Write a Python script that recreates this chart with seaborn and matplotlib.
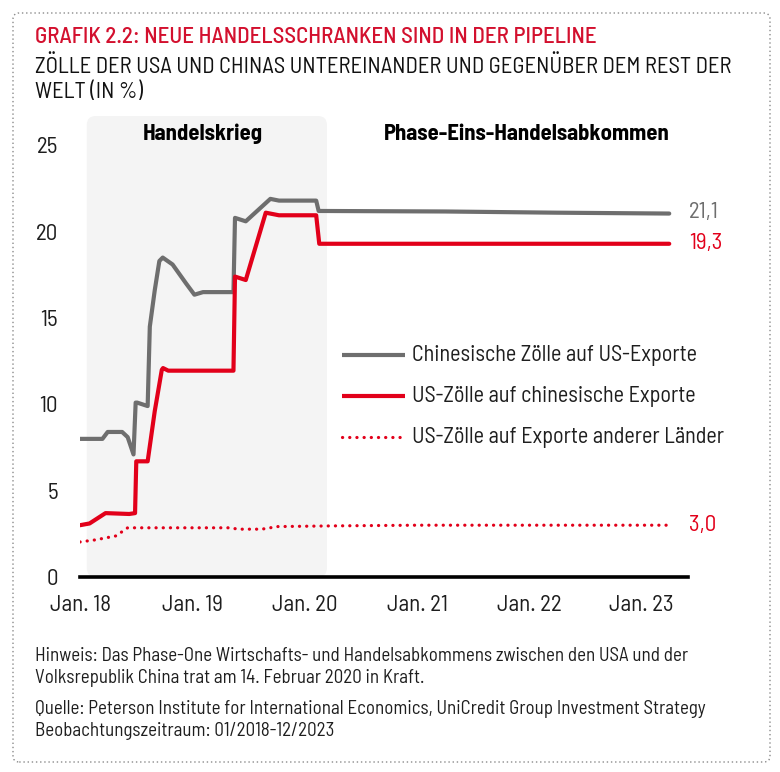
import matplotlib
matplotlib.use("Agg")
import matplotlib.pyplot as plt
import matplotlib.dates as mdates
from matplotlib.patches import FancyBboxPatch
from matplotlib.lines import Line2D
import seaborn as sns
import pandas as pd

# ---- data ----
cn_dates = ["2018-01-01", "2018-03-15", "2018-04-01", "2018-05-18", "2018-06-05", "2018-06-24",
            "2018-07-01", "2018-07-06", "2018-08-09", "2018-08-16", "2018-09-01", "2018-09-16",
            "2018-09-27", "2018-10-29", "2018-12-12", "2019-01-08", "2019-02-05", "2019-05-15",
            "2019-05-20", "2019-06-24", "2019-09-12", "2019-10-10", "2020-02-08", "2020-02-16",
            "2021-04-01", "2022-04-01", "2023-04-01"]
cn_vals = [8.0, 8.0, 8.4, 8.4, 8.1, 7.1,
           10.1, 10.1, 9.9, 14.5, 16.6, 18.3,
           18.5, 18.1, 17.0, 16.35, 16.5, 16.5,
           20.8, 20.6, 21.9, 21.8, 21.8, 21.2,
           21.17, 21.1, 21.05]

us_dates = ["2018-01-01", "2018-02-01", "2018-03-25", "2018-06-10", "2018-06-29", "2018-07-03",
            "2018-08-09", "2018-09-01", "2018-09-24", "2018-09-28", "2018-10-15", "2019-05-15",
            "2019-05-20", "2019-06-24", "2019-08-28", "2019-10-10", "2020-02-08", "2020-02-18",
            "2023-04-01"]
us_vals = [3.0, 3.1, 3.7, 3.65, 3.7, 6.7,
           6.7, 9.6, 12.0, 12.1, 11.95, 11.95,
           17.4, 17.2, 21.1, 20.95, 20.95, 19.3,
           19.3]

row_dates = ["2018-01-01", "2018-02-20", "2018-04-28", "2018-06-05", "2019-05-01", "2019-06-01",
             "2019-08-15", "2019-10-05", "2020-04-01", "2021-01-01", "2023-04-01"]
row_vals = [2.03, 2.15, 2.38, 2.85, 2.85, 2.77,
            2.77, 2.92, 2.96, 3.0, 3.0]

series_names = ["Chinesische Zölle auf US-Exporte",
                "US-Zölle auf chinesische Exporte",
                "US-Zölle auf Exporte anderer Länder"]
end_labels = ["21,1", "19,3", "3,0"]
end_values = [21.1, 19.3, 3.0]
phase_labels = ["Handelskrieg", "Phase-Eins-Handelsabkommen"]
war_start, war_end = "2018-01-23", "2020-03-14"
title = "GRAFIK 2.2: NEUE HANDELSSCHRANKEN SIND IN DER PIPELINE"
subtitle = "ZÖLLE DER USA UND CHINAS UNTEREINANDER UND GEGENÜBER DEM REST DER\nWELT (IN %)"
note1 = "Hinweis: Das Phase-One Wirtschafts- und Handelsabkommens zwischen den USA und der\nVolksrepublik China trat am 14. Februar 2020 in Kraft."
note2 = "Quelle: Peterson Institute for International Economics, UniCredit Group Investment Strategy\nBeobachtungszeitraum: 01/2018-12/2023"

GRAY = "#6e6e6e"
RED = "#e2001a"
TXT = "#1e1e1e"

sns.set_theme(style="white")
FONT = ['Barlow Semi Condensed', 'Roboto Condensed', 'DejaVu Sans']
plt.rcParams['font.family'] = FONT

W, H = 780, 772
fig = plt.figure(figsize=(W / 100, H / 100), dpi=100)
renderer = fig.canvas.get_renderer()


def fit(t, target_px):
    """scale a text's font size so that its rendered width matches target_px"""
    for _ in range(3):
        w = t.get_window_extent(renderer).width
        t.set_fontsize(t.get_fontsize() * target_px / w)
    return t.get_fontsize()


def fx(px):
    return px / W


def fy(py):
    return 1 - py / H


ax = fig.add_axes([fx(80), fy(577), (688 - 80) / W, (577 - 116) / H])

df = pd.concat([
    pd.DataFrame({"date": pd.to_datetime(cn_dates), "val": cn_vals, "series": series_names[0]}),
    pd.DataFrame({"date": pd.to_datetime(us_dates), "val": us_vals, "series": series_names[1]}),
    pd.DataFrame({"date": pd.to_datetime(row_dates), "val": row_vals, "series": series_names[2]}),
])

ax.set_xlim(pd.Timestamp("2018-01-01"), pd.Timestamp("2023-06-01"))
ax.set_ylim(0, 26.7)

# shaded "trade war" period with rounded corners
x0 = mdates.date2num(pd.Timestamp(war_start))
x1 = mdates.date2num(pd.Timestamp(war_end))
px_per_day = (688 - 80) / (mdates.date2num(pd.Timestamp("2023-06-01")) - mdates.date2num(pd.Timestamp("2018-01-01")))
px_per_unit = (577 - 116) / 26.7
rs = 9 / px_per_day
shade = FancyBboxPatch((x0, 0), x1 - x0, 26.7,
                       boxstyle=f"round,pad=0,rounding_size={rs}",
                       mutation_aspect=px_per_day / px_per_unit,
                       facecolor="#f4f4f4", edgecolor="none", zorder=0)
ax.add_patch(shade)

sns.lineplot(data=df[df.series == series_names[0]], x="date", y="val", ax=ax, color=GRAY, lw=3.0,
             legend=False, solid_capstyle="round", solid_joinstyle="round", zorder=3)
sns.lineplot(data=df[df.series == series_names[1]], x="date", y="val", ax=ax, color=RED, lw=3.0,
             legend=False, solid_capstyle="round", solid_joinstyle="round", zorder=3)
sns.lineplot(data=df[df.series == series_names[2]], x="date", y="val", ax=ax, color=RED, lw=2.3,
             legend=False, linestyle=(0, (0.05, 2.2)), dash_capstyle="round", zorder=3)

ax.set_yticks([0, 5, 10, 15, 20, 25])
ax.xaxis.set_major_locator(mdates.YearLocator())
ax.xaxis.set_major_formatter(mdates.DateFormatter("Jan. %y"))
ax.set_xlabel("")
ax.set_ylabel("")
for s in ["top", "right", "left"]:
    ax.spines[s].set_visible(False)
ax.spines["bottom"].set_color("black")
ax.spines["bottom"].set_linewidth(2.6)
ax.spines["bottom"].set_zorder(4)
ax.set_facecolor("white")

# tick label size fitted to "Jan. 18" width (~60 px)
probe = fig.text(0, 0, "Jan. 18", fontsize=15)
tick_fs = fit(probe, 61)
probe.remove()
ax.tick_params(axis="both", length=0, labelsize=tick_fs, colors=TXT)
ax.tick_params(axis="x", pad=13)
ax.tick_params(axis="y", pad=16)

# phase labels
t = fig.text(fx(203), fy(134), phase_labels[0], ha="center", va="center", fontsize=15,
             fontweight="bold", color="black")
fit(t, 120)
t = fig.text(fx(527), fy(134), phase_labels[1], ha="center", va="center", fontsize=15,
             fontweight="bold", color="black")
fit(t, 286)

# end labels
for lab, val, col in zip(end_labels, end_values, [GRAY, RED, RED]):
    ax.text(1.0 + 1 / (688 - 80), val, lab, transform=ax.get_yaxis_transform(),
            ha="left", va="center", fontsize=tick_fs, color=col, clip_on=False)

# legend (manual, positioned as in reference)
leg_rows = [355, 396, 437]
styles = [dict(color=GRAY, lw=3.0, solid_capstyle="butt"),
          dict(color=RED, lw=3.0, solid_capstyle="butt"),
          dict(color=RED, lw=2.3, linestyle=(0, (0.05, 2.2)), dash_capstyle="round")]
leg_fs = None
for name, yy, st in zip(series_names, leg_rows, styles):
    fig.add_artist(Line2D([fx(342), fx(405)], [fy(yy), fy(yy)], transform=fig.transFigure, **st))
    t = fig.text(fx(412), fy(yy), name, ha="left", va="center", fontsize=15, color=TXT)
    if leg_fs is None:
        leg_fs = fit(t, 286)
    else:
        t.set_fontsize(leg_fs)

# titles
t = fig.text(fx(35), fy(37), title, ha="left", va="center", fontsize=16, color="#d3102e",
             fontweight="medium")
fit(t, 562)
t = fig.text(fx(35), fy(80), subtitle, ha="left", va="center", fontsize=16, color="#111111",
             linespacing=1.25)
fit(t, 697)

# notes
t = fig.text(fx(35), fy(667), note1, ha="left", va="center", fontsize=12.5, color=TXT,
             linespacing=1.35)
fit(t, 653)
t2 = fig.text(fx(35), fy(720), note2, ha="left", va="center", fontsize=t.get_fontsize(), color=TXT,
              linespacing=1.35)

# dotted rounded border
border = FancyBboxPatch((fx(13), fy(762)), (770 - 13) / W, (762 - 13) / H,
                        boxstyle="round,pad=0,rounding_size=0.008", transform=fig.transFigure,
                        fill=False, edgecolor="#8a8a8a", linestyle=(0, (1, 2)), lw=1.0)
fig.patches.append(border)

fig.savefig("out.png", dpi=100, facecolor="white")
